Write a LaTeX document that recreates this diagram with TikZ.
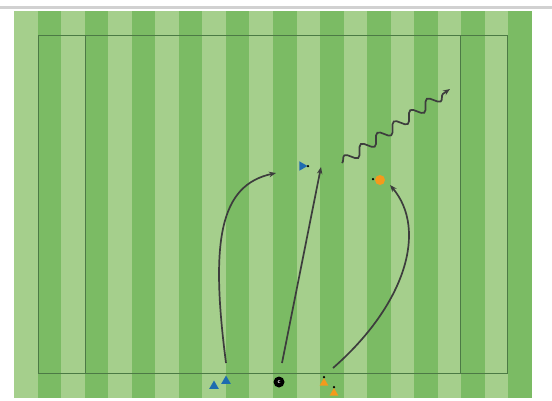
\documentclass[tikz,border=0pt]{standalone}
\usetikzlibrary{shapes.geometric,arrows.meta,decorations.pathmorphing}

\definecolor{grasslight}{HTML}{A5CF8C}
\definecolor{grassdark}{HTML}{7BBB64}
\definecolor{pitchline}{HTML}{4C7A45}
\definecolor{runline}{HTML}{3D3D3D}
\definecolor{coneorange}{HTML}{F49A1C}
\definecolor{playerblue}{HTML}{1E6CB0}

\begin{document}
\begin{tikzpicture}[
    x=1bp, y=-1bp,
    pitch/.style={draw=pitchline, line width=1bp},
    run/.style={-{Stealth[length=7bp, width=5.5bp]}, draw=runline, line width=1.7bp},
    dribble/.style={run, decorate, decoration={snake, amplitude=5bp, segment length=20bp, post length=8bp}},
    blueplayer/.style={regular polygon, regular polygon sides=3, fill=playerblue,
                inner sep=0pt, minimum size=11bp},
    cone/.style={regular polygon, regular polygon sides=3, fill=coneorange,
                inner sep=0pt, minimum size=10bp},
    coach/.style={circle, fill=black, text=white, inner sep=0pt, minimum size=11bp,
                font=\sffamily\bfseries\fontsize{6}{6}\selectfont},
    dot/.style={circle, fill=black, inner sep=0pt, minimum size=2.5bp}
]
    \useasboundingbox (0,0) rectangle (552,400);
    \fill[white] (0,0) rectangle (552,400);
    \fill[black!18] (0,6) rectangle (552,8.5);

    % grass
    \foreach \i in {0,2,...,20}
        \fill[grasslight] ({14+\i*23.545},11) rectangle ({14+(\i+1)*23.545},398);
    \foreach \i in {1,3,...,21}
        \fill[grassdark] ({14+\i*23.545},11) rectangle ({14+(\i+1)*23.545},398);

    % markings
    \draw[pitch] (38,35) rectangle (507,373);
    \draw[pitch] (38,35) rectangle (85,373);
    \draw[pitch] (460,35) rectangle (507,373);

    % players
    \node[blueplayer] (blueA) at (214,386) {};
    \node[blueplayer] (blueB) at (226,381) {};
    \node[coach] (coach) at (279,382) {c};
    \node[cone] (orangeA) at (324,383) {};
    \node[dot, above=-1bp] (orangeAdot) at (orangeA.north) {};
    \node[cone] (orangeB) at (334,393) {};
    \node[dot, above=-1bp] (orangeBdot) at (orangeB.north) {};

    \node[blueplayer, shape border rotate=-90] (blueT) at (302,166) {};
    \node[dot] (blueTdot) at (308,166) {};
    \node[circle, fill=coneorange, inner sep=0pt, minimum size=10bp] (orangeT) at (380,180) {};
    \node[dot] (orangeTdot) at (373,179) {};

    % runs
    \coordinate (runAstart) at (226,363);
    \coordinate (runAend) at (276,173);
    \coordinate (runBstart) at (282,363);
    \coordinate (runBend) at (321,167);
    \coordinate (runCstart) at (333,368);
    \coordinate (runCend) at (390,185);
    \coordinate (dribStart) at (342,163);
    \coordinate (dribEnd) at (450,89);

    \draw[run] (runAstart) .. controls (210,240) and (220,185) .. (runAend);
    \draw[run] (runBstart) -- (runBend);
    \draw[run] (runCstart) .. controls (405,305) and (428,230) .. (runCend);
    \draw[dribble] (dribStart) -- (dribEnd);
\end{tikzpicture}
\end{document}
